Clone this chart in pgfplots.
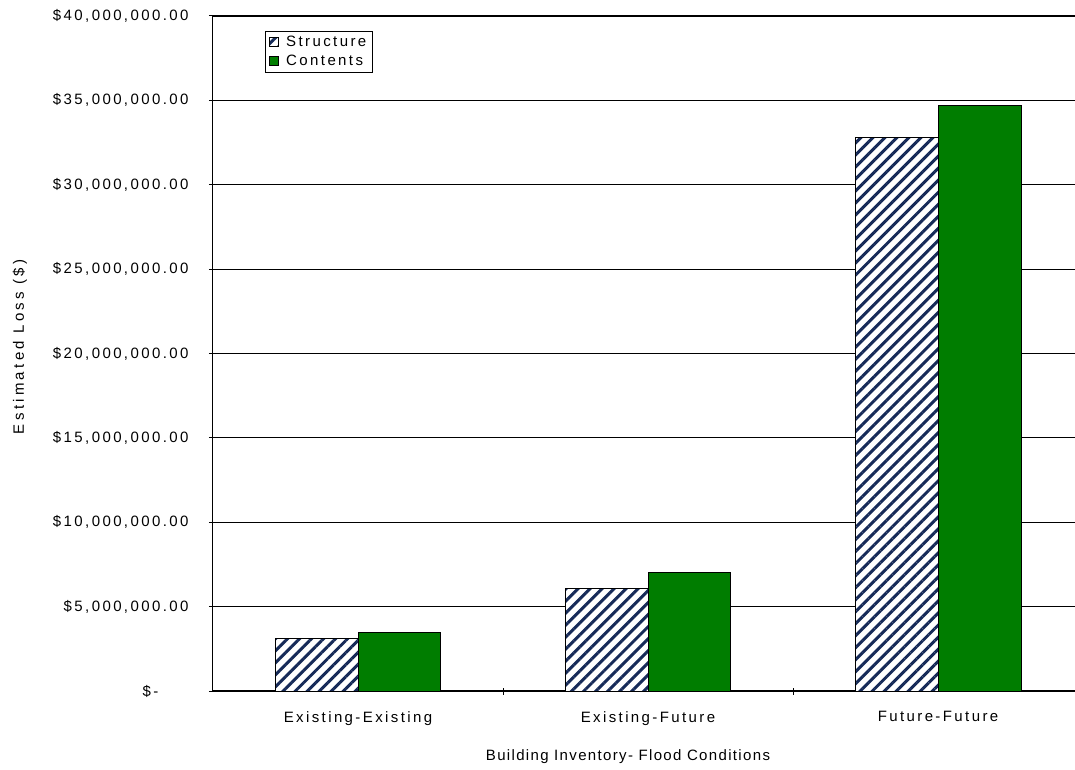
\documentclass[border=0pt]{standalone}
\usepackage{pgfplots}
\pgfplotsset{compat=1.18}
\usepackage{fontspec}
\setmainfont{Liberation Sans}[LetterSpace=16]
\newfontfamily\xlabfont{Liberation Sans}[LetterSpace=9]
\newfontfamily\ylabfont{Liberation Sans}[LetterSpace=22]
\usetikzlibrary{patterns.meta}

\definecolor{hatchnavy}{RGB}{22,42,88}
\definecolor{contgreen}{RGB}{0,125,0}

\newcommand{\chartfont}{\fontsize{15}{18}\selectfont}

\begin{document}
\begin{tikzpicture}
\begin{axis}[
  at={(0,0)}, anchor=south west,
  scale only axis,
  width=870pt, height=675pt,
  xmin=-0.5, xmax=2.5,
  ymin=0, ymax=40000000,
  ybar=0pt, bar width=0.286,
  axis x line*=bottom, axis y line*=left,
  axis line style={black, line width=1pt, -},
  xtick={0,1,2},
  xticklabels={Existing-Existing, Existing-Future, Future-Future},
  major x tick style={draw=none},
  minor xtick={0.5,1.5,2.5},
  minor x tick style={black, line width=1pt},
  minor tick length=7pt,
  ytick={0,5000000,10000000,15000000,20000000,25000000,30000000,35000000,40000000},
  yticklabels={{\$-\rule{30pt}{0pt}}, {\$5,000,000.00}, {\$10,000,000.00}, {\$15,000,000.00},
               {\$20,000,000.00}, {\$25,000,000.00}, {\$30,000,000.00}, {\$35,000,000.00},
               {\$40,000,000.00}},
  scaled y ticks=false,
  major y tick style={black, line width=1pt},
  major tick length=8pt,
  tick align=center,
  ymajorgrids,
  grid style={black, line width=1.2pt},
  tick label style={font=\chartfont, text=black},
  yticklabel style={xshift=-17pt},
  xticklabel style={yshift=-13pt},
  ylabel={Estimated Loss (\$)},
  ylabel style={font=\ylabfont\chartfont, at={(axis description cs:-0.222,0.51)}, anchor=center},
  xlabel={Building Inventory- Flood Conditions},
  xlabel style={font=\xlabfont\chartfont, at={(axis description cs:0.477,0)}, anchor=center, yshift=-66pt},
  legend style={at={(axis description cs:0.0598,0.978)}, anchor=north west,
    draw=black, line width=0.8pt, font=\chartfont,
    row sep=3pt, inner xsep=4pt, inner ysep=3pt,
    /tikz/every odd column/.append style={column sep=5pt},
    /tikz/every even column/.append style={column sep=3pt}},
  legend cell align=left,
  legend image code/.code={\draw[#1, line width=0.8pt] (0pt,-4.5pt) rectangle (9pt,4.5pt);},
]
\addplot[draw=black, line width=0.9pt, fill=white,
  postaction={pattern={Lines[angle=45, distance=8.5pt, line width=3pt]}, pattern color=hatchnavy}]
  coordinates {(0,3100000) (1,6050000) (2,32800000)};
\addplot[draw=black, line width=0.9pt, fill=contgreen]
  coordinates {(0,3450000) (1,7050000) (2,34700000)};
\legend{Structure, Contents}
\end{axis}
\pgfresetboundingbox
\path[use as bounding box] (-213pt,-79pt) rectangle (862pt,691pt);
\end{tikzpicture}
\end{document}
